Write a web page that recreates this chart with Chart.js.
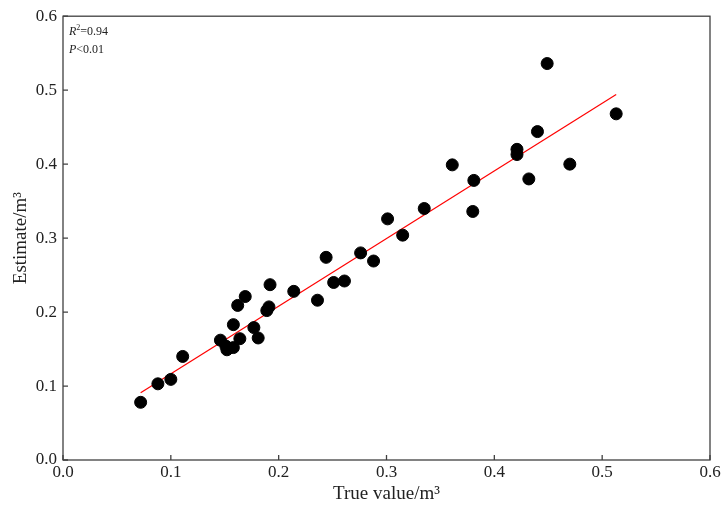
<!DOCTYPE html>
<html>
<head>
<meta charset="utf-8">
<script src="https://cdn.jsdelivr.net/npm/chart.js@4.4.0/dist/chart.umd.min.js"></script>
<style>
html,body{margin:0;padding:0;background:#fff;}
#wrap{width:728px;height:517px;}
</style>
</head>
<body>
<div id="wrap"><canvas id="c" width="728" height="517"></canvas></div>
<script>
const trueValues = [0.072,0.088,0.100,0.111,0.146,0.151,0.152,0.158,0.158,0.162,0.164,0.169,0.177,0.181,0.189,0.191,0.192,0.214,0.236,0.244,0.251,0.261,0.276,0.288,0.301,0.315,0.335,0.361,0.380,0.381,0.421,0.421,0.432,0.440,0.449,0.470,0.513];
const estimates  = [0.078,0.103,0.109,0.140,0.162,0.154,0.149,0.152,0.183,0.209,0.164,0.221,0.179,0.165,0.202,0.207,0.237,0.228,0.216,0.274,0.240,0.242,0.280,0.269,0.326,0.304,0.340,0.399,0.336,0.378,0.420,0.413,0.380,0.444,0.536,0.400,0.468];
const fitX = [0.072, 0.513];
const fitY = [0.091, 0.494];
const tickValues = [0, 0.1, 0.2, 0.3, 0.4, 0.5, 0.6];
const statLabels = [["R","2","=0.94"],["P","","<0.01"]];

const FONT = "'Liberation Serif','DejaVu Serif',serif";
const AXIS_COLOR = '#404040';

const framePlugin = {
  id:'frame',
  afterDraw(chart){
    const {ctx, chartArea:a, scales} = chart;
    ctx.save();
    ctx.strokeStyle = AXIS_COLOR;
    ctx.lineWidth = 1.3;
    ctx.strokeRect(a.left, a.top, a.right-a.left, a.bottom-a.top);
    ctx.beginPath();
    scales.x.ticks.forEach(t=>{
      const px = scales.x.getPixelForValue(t.value);
      ctx.moveTo(px, a.bottom); ctx.lineTo(px, a.bottom-5);
    });
    scales.y.ticks.forEach(t=>{
      const py = scales.y.getPixelForValue(t.value);
      ctx.moveTo(a.left, py); ctx.lineTo(a.left+5, py);
    });
    ctx.stroke();
    // stats annotation
    ctx.fillStyle = '#222';
    ctx.textBaseline = 'alphabetic';
    let y = a.top + 19;
    statLabels.forEach(([it, sup, rest])=>{
      let x = a.left + 6;
      ctx.font = "italic 12px " + FONT;
      ctx.fillText(it, x, y); x += ctx.measureText(it).width;
      if (sup){
        ctx.font = "8px " + FONT;
        ctx.fillText(sup, x, y-5); x += ctx.measureText(sup).width;
      }
      ctx.font = "12px " + FONT;
      ctx.fillText(rest, x, y);
      y += 18;
    });
    ctx.restore();
  }
};

const points = trueValues.map((v,i)=>({x:v, y:estimates[i]}));
const fit = fitX.map((v,i)=>({x:v, y:fitY[i]}));

new Chart(document.getElementById('c'), {
  type:'scatter',
  data:{datasets:[
    {data:fit, type:'line', borderColor:'#ff0000', borderWidth:1.2, pointRadius:0, fill:false, order:2},
    {data:points, backgroundColor:'#000', borderColor:'#000', pointRadius:6, pointHoverRadius:6, order:1}
  ]},
  options:{
    responsive:false, animation:false, devicePixelRatio:1,
    layout:{padding:{left:10,right:18,top:16,bottom:12}},
    plugins:{legend:{display:false}, tooltip:{enabled:false}},
    scales:{
      x:{type:'linear', min:0, max:0.6,
        afterBuildTicks:s=>{s.ticks = tickValues.map(v=>({value:v}));},
        afterFit:s=>{s.height = 45;},
        grid:{display:false, drawTicks:false},
        border:{display:false},
        ticks:{padding:2, color:'#222', font:{family:FONT, size:17}, callback:v=>v.toFixed(1), maxRotation:0},
        title:{display:true, text:'True value/m³', color:'#222', font:{family:FONT, size:19}, padding:{top:2,bottom:0}}
      },
      y:{type:'linear', min:0, max:0.6,
        afterBuildTicks:s=>{s.ticks = tickValues.map(v=>({value:v}));},
        afterFit:s=>{s.width = 53;},
        grid:{display:false, drawTicks:false},
        border:{display:false},
        ticks:{padding:6, color:'#222', font:{family:FONT, size:17}, callback:v=>v.toFixed(1)},
        title:{display:true, text:'Estimate/m³', color:'#222', font:{family:FONT, size:19}, padding:{top:0,bottom:2}}
      }
    }
  },
  plugins:[framePlugin]
});
</script>
</body>
</html>
